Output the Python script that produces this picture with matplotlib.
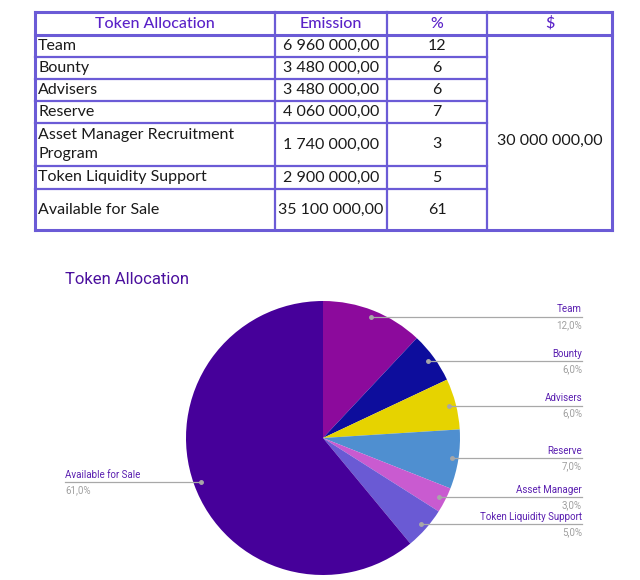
import numpy as np
import matplotlib.pyplot as plt

# table data
categories = ["Team", "Bounty", "Advisers", "Reserve",
              "Asset Manager Recruitment\nProgram", "Token Liquidity Support",
              "Available for Sale"]
emission = ["6 960 000,00", "3 480 000,00", "3 480 000,00", "4 060 000,00",
            "1 740 000,00", "2 900 000,00", "35 100 000,00"]
percent = [12, 6, 6, 7, 3, 5, 61]
usd_total = "30 000 000,00"
headers = ["Token Allocation", "Emission", "%", "$"]

# pie data
pie_labels = ["Team", "Bounty", "Advisers", "Reserve", "Asset Manager",
              "Token Liquidity Support", "Available for Sale"]
pie_values = [12.0, 6.0, 6.0, 7.0, 3.0, 5.0, 61.0]
pie_colors = ["#8c0a9c", "#0d0d9c", "#e6d300", "#4f8fd0", "#c95bd0",
              "#6a5ad4", "#46009a"]

H = 580
fig = plt.figure(figsize=(6.4, 5.8), dpi=100)
ax = fig.add_axes([0, 0, 1, 1])
ax.set_xlim(0, 640)
ax.set_ylim(0, H)
ax.set_aspect('equal')
ax.axis('off')

# ---- table ----
border = "#6b5bd6"
hdr_col = "#5a22c8"
col_x = [35, 275, 387, 487, 612]
row_y = [12, 35, 57, 79, 101, 123, 166, 189, 230]
tfont = dict(family=["Lato", "DejaVu Sans"], fontsize=11.5, color="#1a1a1a")

def Y(y):
    return H - y

# horizontal lines
for j, y in enumerate(row_y):
    lw = 2.2 if j in (0, 1, len(row_y) - 1) else 1.6
    x_end = col_x[-1] if j in (0, 1, len(row_y) - 1) else col_x[3]
    ax.plot([col_x[0], x_end], [Y(y), Y(y)], color=border, lw=lw,
            solid_capstyle='projecting')
# vertical lines
for i, x in enumerate(col_x):
    lw = 2.2 if i in (0, len(col_x) - 1) else 1.6
    ax.plot([x, x], [Y(row_y[0]), Y(row_y[-1])], color=border, lw=lw,
            solid_capstyle='projecting')

for i, h in enumerate(headers):
    ax.text((col_x[i] + col_x[i + 1]) / 2, Y((row_y[0] + row_y[1]) / 2), h,
            ha='center', va='center', family=["Lato", "DejaVu Sans"],
            fontsize=11.5, color=hdr_col, fontweight='medium')

for r, (cat, em, pc) in enumerate(zip(categories, emission, percent)):
    yc = Y((row_y[r + 1] + row_y[r + 2]) / 2)
    ax.text(col_x[0] + 3, yc, cat, ha='left', va='center', linespacing=1.45,
            **tfont)
    ax.text((col_x[1] + col_x[2]) / 2, yc, em, ha='center', va='center', **tfont)
    ax.text((col_x[2] + col_x[3]) / 2, yc, str(pc), ha='center', va='center',
            **tfont)
ax.text((col_x[3] + col_x[4]) / 2, Y(141), usd_total,
        ha='center', va='center', **tfont)

# ---- pie ----
cx, cy, R = 323, Y(438), 137
ax.text(65, Y(280), "Token Allocation", ha='left', va='center',
        family=["Roboto", "DejaVu Sans"], fontsize=12, color="#4b109e")

wedges, _ = ax.pie(pie_values, colors=pie_colors, startangle=90,
                   counterclock=False, center=(cx, cy), radius=R,
                   wedgeprops=dict(linewidth=0))
ax.set_xlim(0, 640)
ax.set_ylim(0, H)

lab_font = dict(family=["Roboto", "DejaVu Sans"], fontsize=7)
for w, lab, v in zip(wedges, pie_labels, pie_values):
    ang = np.deg2rad((w.theta1 + w.theta2) / 2)
    px = cx + 0.95 * R * np.cos(ang)
    py = cy + 0.95 * R * np.sin(ang)
    if np.cos(ang) >= 0:
        x_end, ha = 582, 'right'
    else:
        x_end, ha = 65, 'left'
    ax.plot([px, x_end], [py, py], color="#a8a8a8", lw=0.9)
    ax.plot(px, py, 'o', color="#a8a8a8", ms=2.5)
    ax.text(x_end, py + 2.5, lab, ha=ha, va='bottom', color="#5a1fb0",
            **lab_font)
    ax.text(x_end, py - 3, f"{v:.1f}%".replace('.', ','), ha=ha, va='top',
            color="#a0a0a0", **lab_font)

fig.savefig("out.png", dpi=100)
